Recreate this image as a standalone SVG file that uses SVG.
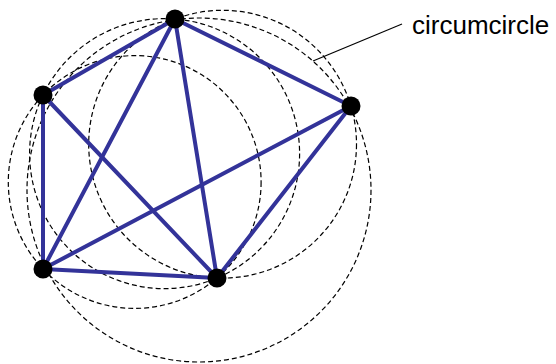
<svg xmlns="http://www.w3.org/2000/svg" width="556" height="364" viewBox="0 0 556 364">
<style>
.cc{fill:none;stroke:#000;stroke-width:1.2;stroke-dasharray:5,3}
.e{stroke:#333399;stroke-width:4;stroke-linecap:round}
.n{fill:#000}
.lbl{font-family:"Liberation Sans",Arial,sans-serif;font-size:26px;fill:#000}
</style>
<rect width="556" height="364" fill="#fff"/>
<g id="circumcircles">
<circle class="cc" cx="164.6" cy="153.6" r="135"/>
<circle class="cc" cx="199" cy="190" r="172"/>
<circle class="cc" cx="222.6" cy="144.2" r="133.9"/>
<circle class="cc" cx="134.7" cy="182" r="126.4"/>
</g>
<g id="connectors">
<line class="e" x1="175" y1="19" x2="43" y2="95"/>
<line class="e" x1="175" y1="19" x2="351" y2="106"/>
<line class="e" x1="175" y1="19" x2="43" y2="269"/>
<line class="e" x1="175" y1="19" x2="217" y2="278"/>
<line class="e" x1="43" y1="95" x2="43" y2="269"/>
<line class="e" x1="43" y1="95" x2="217" y2="278"/>
<line class="e" x1="351" y1="106" x2="43" y2="269"/>
<line class="e" x1="351" y1="106" x2="217" y2="278"/>
<line class="e" x1="43" y1="269" x2="217" y2="278"/>
<line x1="313" y1="61" x2="402" y2="24" stroke="#000" stroke-width="1.2"/>
</g>
<g id="nodeA"><circle class="n" cx="175" cy="19" r="9.5"/></g>
<g id="nodeB"><circle class="n" cx="43" cy="95" r="9.5"/></g>
<g id="nodeC"><circle class="n" cx="351" cy="106" r="9.5"/></g>
<g id="nodeD"><circle class="n" cx="43" cy="269" r="9.5"/></g>
<g id="nodeE"><circle class="n" cx="217" cy="278" r="9.5"/></g>
<g id="label"><text class="lbl" x="412" y="34">circumcircle</text></g>
</svg>
